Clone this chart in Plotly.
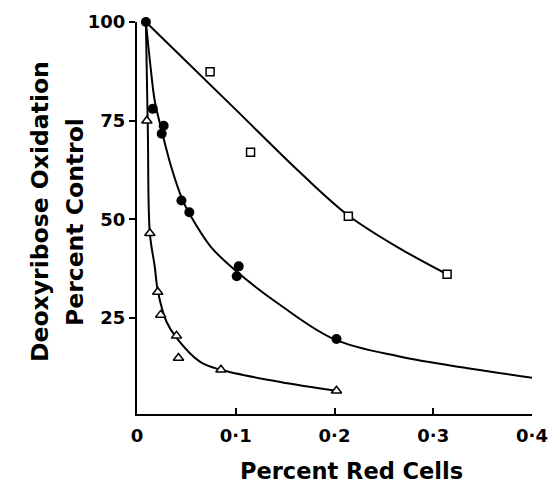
import plotly.graph_objects as go

# Data (x = percent red cells, y = percent control)
circle_x = [0.009, 0.016, 0.027, 0.025, 0.045, 0.053, 0.103, 0.101, 0.202, 0.403]
circle_y = [100, 78, 73.7, 71.7, 54.8, 51.8, 38.1, 35.6, 19.7, 9.8]

square_x = [0.074, 0.115, 0.214, 0.314]
square_y = [87.4, 67, 50.8, 36.1]

triangle_x = [0.010, 0.013, 0.021, 0.024, 0.040, 0.042, 0.085, 0.202]
triangle_y = [75, 46.5, 31.6, 25.8, 20.5, 14.9, 11.9, 6.6]

# Fitted curves
curve_sq_x = [0.009, 0.05, 0.1, 0.1655, 0.214, 0.265, 0.314]
curve_sq_y = [100, 90, 77.8, 61.8, 51, 42.8, 36.1]

curve_ci_x = [0.009, 0.014, 0.018, 0.025, 0.035, 0.046, 0.053, 0.075, 0.1, 0.145, 0.2, 0.267, 0.335, 0.403]
curve_ci_y = [100, 88, 80, 72.5, 63, 55, 51.5, 43, 37, 28.3, 19.6, 15.2, 12.3, 9.8]

curve_tr_x = [0.009, 0.011, 0.013, 0.018, 0.021, 0.030, 0.040, 0.064, 0.085, 0.145, 0.202]
curve_tr_y = [100, 72, 46.5, 38, 32, 24, 20, 13.9, 11.9, 8.8, 6.6]

x_ticks = [0, 0.1, 0.2, 0.3, 0.4]
x_labels = ["0", "0·1", "0·2", "0·3", "0·4"]
y_ticks = [25, 50, 75, 100]
y_labels = ["25", "50", "75", "100"]

FONT = "DejaVu Sans"
line = dict(color="black", width=2, shape="spline", smoothing=1.0)

W, H = 552, 486
L, R, T, B = 137, 20, 22, H - 414

fig = go.Figure()
for cx, cy in [(curve_sq_x, curve_sq_y), (curve_ci_x, curve_ci_y), (curve_tr_x, curve_tr_y)]:
    fig.add_trace(go.Scatter(x=cx, y=cy, mode="lines", line=line, cliponaxis=False,
                             hoverinfo="skip", showlegend=False))

fig.add_trace(go.Scatter(x=square_x, y=square_y, mode="markers", cliponaxis=False,
                         marker=dict(symbol="square", size=8, color="white",
                                     line=dict(color="black", width=1.5)), showlegend=False))
fig.add_trace(go.Scatter(x=triangle_x, y=triangle_y, mode="markers", cliponaxis=False,
                         marker=dict(symbol="triangle-up", size=9, color="white",
                                     line=dict(color="black", width=1.5)), showlegend=False))
fig.add_trace(go.Scatter(x=circle_x, y=circle_y, mode="markers", cliponaxis=False,
                         marker=dict(symbol="circle", size=10, color="black"), showlegend=False))

fig.update_layout(
    width=W, height=H,
    margin=dict(l=L, r=R, t=T, b=B, autoexpand=False),
    plot_bgcolor="white", paper_bgcolor="white",
    font=dict(family=FONT, color="black"),
    xaxis=dict(range=[0, 0.4], tickvals=x_ticks, ticktext=[f"<b>{t}</b>" for t in x_labels],
               ticks="inside", ticklen=6, tickwidth=2, tickcolor="black", showline=True,
               linecolor="black", linewidth=2, showgrid=False, zeroline=False,
               tickfont=dict(family=FONT, size=18, color="black"), ticklabelstandoff=4),
    yaxis=dict(range=[0.7, 100], tickvals=y_ticks, ticktext=[f"<b>{t}</b>" for t in y_labels],
               ticks="outside", ticklen=6, tickwidth=2, tickcolor="black", showline=True,
               linecolor="black", linewidth=2, showgrid=False, zeroline=False,
               tickfont=dict(family=FONT, size=18, color="black")),
)

pw = W - L - R
ph = H - T - B
def px_to_paper(xp, yp):
    return (xp - L) / pw, (H - B - yp) / ph

for text, xp, yp, ang, size in [("<b>Percent Red Cells</b>", 351, 471, 0, 22.5),
                                ("<b>Deoxyribose Oxidation</b>", 40, 212, -90, 23.5),
                                ("<b>Percent Control</b>", 75, 222, -90, 23.5)]:
    xx, yy = px_to_paper(xp, yp)
    fig.add_annotation(text=text, x=xx, y=yy, xref="paper", yref="paper", showarrow=False,
                       textangle=ang, xanchor="center", yanchor="middle",
                       font=dict(family=FONT, size=size, color="black"))

fig.write_html("out.html", config={"displayModeBar": False},
               post_script="document.body.style.margin='0';document.body.style.overflow='hidden';")
